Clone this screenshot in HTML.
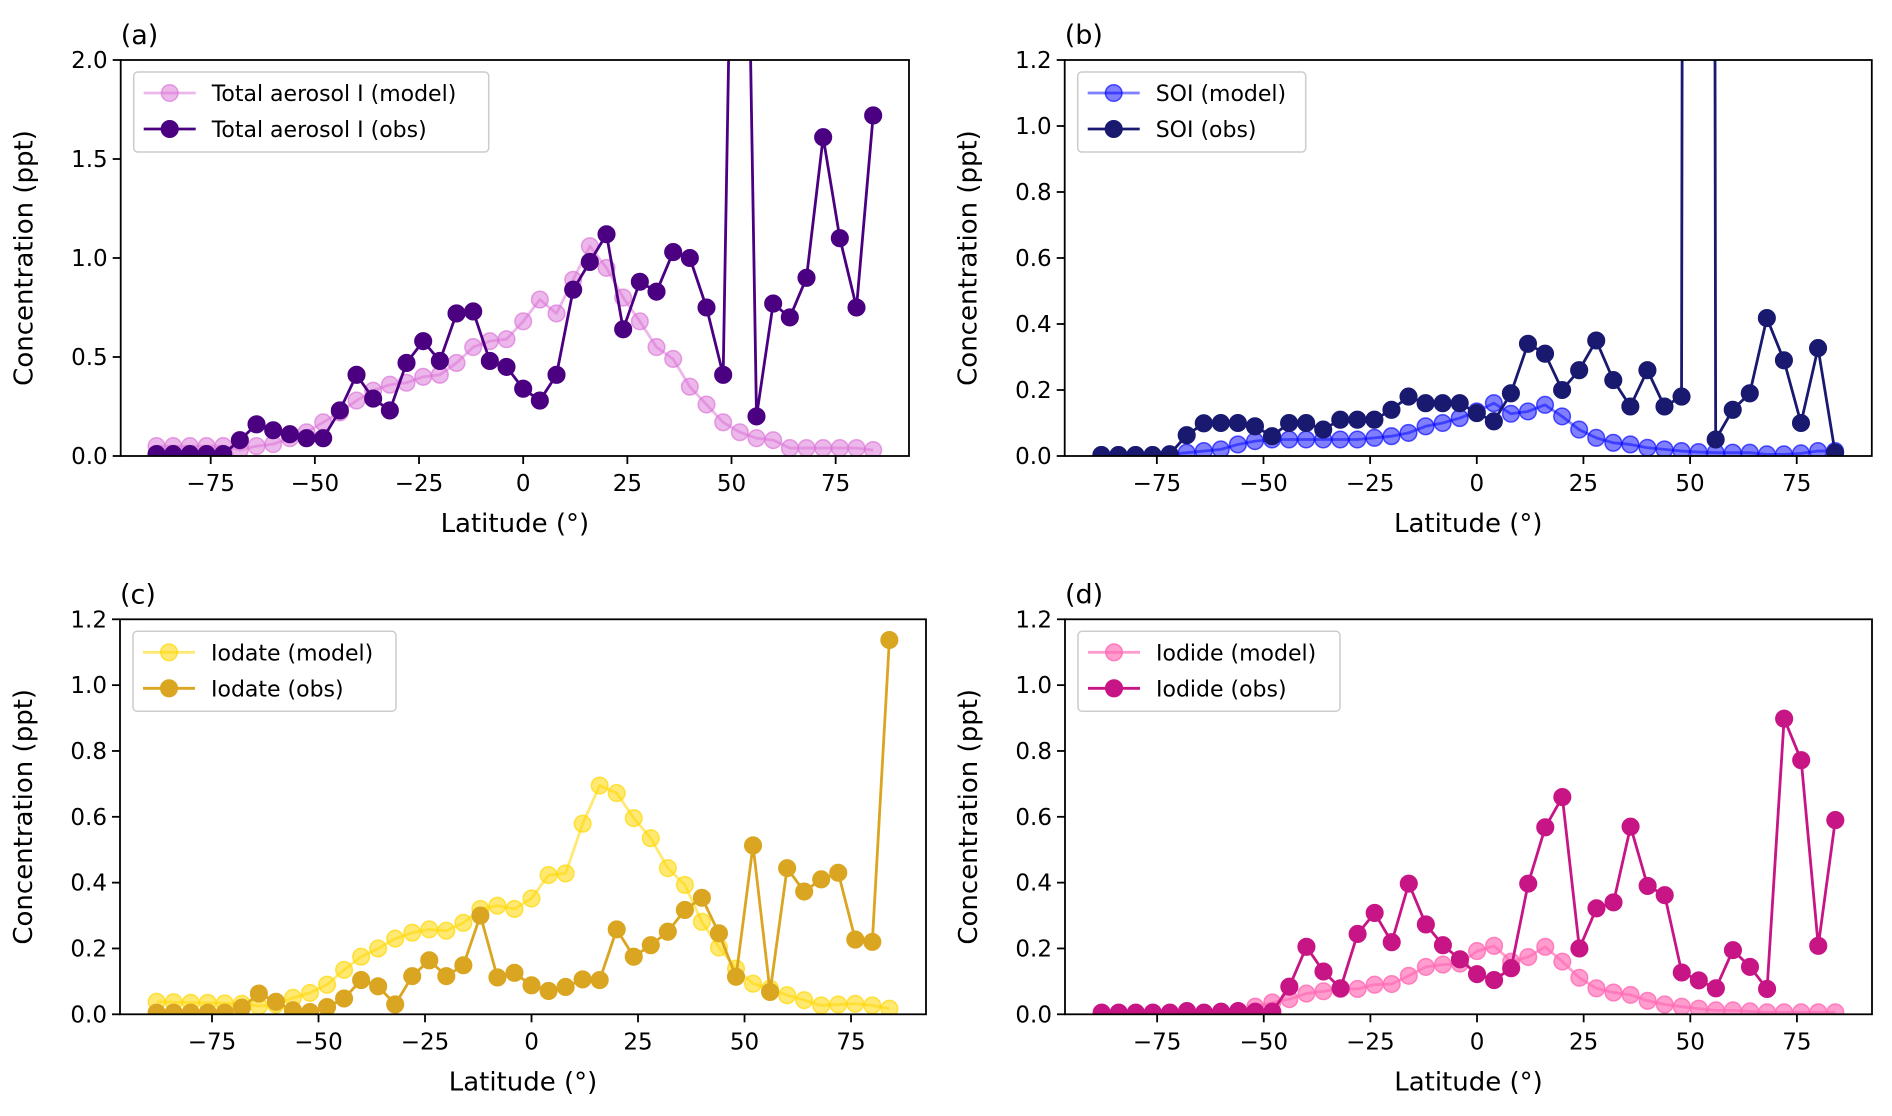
<!DOCTYPE html>
<html><head><meta charset="utf-8">
<style>
html,body{margin:0;padding:0;background:#fff;}
svg{display:block;font-family:"DejaVu Sans","Liberation Sans",sans-serif;}
</style></head>
<body>
<svg id="fig" width="1892" height="1116" viewBox="0 0 1892 1116" xmlns="http://www.w3.org/2000/svg"></svg>
<script>
const lats = [-88,-84,-80,-76,-72,-68,-64,-60,-56,-52,-48,-44,-40,-36,-32,-28,-24,-20,-16,-12,-8,-4,0,4,8,12,16,20,24,28,32,36,40,44,48,52,56,60,64,68,72,76,80,84];
const xTicks = [-75,-50,-25,0,25,50,75];
const yTicksA = [0,0.5,1.0,1.5,2.0];
const yTicksB = [0,0.2,0.4,0.6,0.8,1.0,1.2];

const totalModel = [0.05,0.05,0.05,0.05,0.05,0.03,0.05,0.06,0.09,0.12,0.17,0.22,0.28,0.33,0.36,0.37,0.40,0.41,0.47,0.55,0.58,0.59,0.68,0.79,0.72,0.89,1.06,0.95,0.80,0.68,0.55,0.49,0.35,0.26,0.17,0.12,0.09,0.08,0.04,0.04,0.04,0.04,0.04,0.03];
const totalObs = [0.01,0.01,0.01,0.01,0.01,0.08,0.16,0.13,0.11,0.09,0.09,0.23,0.41,0.29,0.23,0.47,0.58,0.48,0.72,0.73,0.48,0.45,0.34,0.28,0.41,0.84,0.98,1.12,0.64,0.88,0.83,1.03,1.00,0.75,0.41,5.3,0.20,0.77,0.70,0.90,1.61,1.10,0.75,1.72];

const soiModel = [0.003,0.003,0.003,0.003,0.005,0.01,0.015,0.02,0.035,0.045,0.05,0.05,0.05,0.05,0.05,0.05,0.055,0.06,0.07,0.09,0.10,0.115,0.135,0.16,0.128,0.135,0.155,0.12,0.08,0.055,0.04,0.035,0.025,0.02,0.015,0.012,0.01,0.01,0.01,0.005,0.005,0.008,0.015,0.015];
const soiObs = [0.003,0.003,0.003,0.003,0.005,0.063,0.099,0.10,0.10,0.09,0.06,0.10,0.10,0.08,0.11,0.11,0.11,0.14,0.18,0.16,0.16,0.16,0.13,0.105,0.19,0.34,0.31,0.20,0.26,0.35,0.23,0.15,0.26,0.15,0.18,30,0.05,0.14,0.19,0.418,0.29,0.10,0.327,0.01];

const iodateModel = [0.038,0.037,0.035,0.035,0.033,0.032,0.025,0.03,0.05,0.065,0.09,0.135,0.175,0.20,0.23,0.248,0.258,0.254,0.278,0.32,0.33,0.32,0.352,0.423,0.428,0.579,0.695,0.672,0.596,0.535,0.444,0.393,0.281,0.203,0.139,0.093,0.078,0.058,0.043,0.027,0.03,0.032,0.027,0.017];
const iodateObs = [0.005,0.005,0.005,0.005,0.005,0.02,0.063,0.038,0.012,0.007,0.022,0.048,0.104,0.085,0.03,0.116,0.164,0.116,0.149,0.30,0.112,0.126,0.088,0.071,0.083,0.106,0.104,0.258,0.175,0.21,0.251,0.317,0.354,0.246,0.114,0.513,0.068,0.444,0.373,0.41,0.43,0.227,0.22,1.137];

const iodideModel = [0.005,0.005,0.005,0.005,0.005,0.005,0.005,0.006,0.01,0.023,0.036,0.046,0.063,0.07,0.077,0.077,0.09,0.092,0.117,0.144,0.151,0.154,0.192,0.208,0.16,0.174,0.205,0.16,0.111,0.079,0.066,0.059,0.041,0.03,0.023,0.017,0.012,0.012,0.009,0.006,0.006,0.006,0.006,0.006];
const iodideObs = [0.005,0.005,0.005,0.005,0.005,0.01,0.005,0.008,0.01,0.008,0.008,0.084,0.205,0.13,0.079,0.244,0.308,0.219,0.397,0.273,0.21,0.167,0.122,0.104,0.14,0.397,0.568,0.66,0.20,0.322,0.34,0.57,0.39,0.362,0.127,0.103,0.079,0.195,0.144,0.077,0.898,0.772,0.208,0.59];

const NS = "http://www.w3.org/2000/svg";
const svg = document.getElementById('fig');
function mk(tag, attrs, parent){ const e=document.createElementNS(NS,tag); for(const k in attrs) e.setAttribute(k,attrs[k]); (parent||svg).appendChild(e); return e; }
function fmtX(v){ return v<0 ? "\u2212"+Math.abs(v) : String(v); }

const panels = [
 {id:'a', L:120.7, R:909, T:60, B:456, ymax:2.0, yt:yTicksA, model:totalModel, obs:totalObs,
  mc:'#da70d6', mo:0.5, oc:'#4b0082', ml:'Total aerosol I (model)', ol:'Total aerosol I (obs)', lw:355},
 {id:'b', L:1064.7, R:1871.8, T:60, B:456, ymax:1.2, yt:yTicksB, model:soiModel, obs:soiObs,
  mc:'#0000ff', mo:0.5, oc:'#191970', ml:'SOI (model)', ol:'SOI (obs)', lw:228},
 {id:'c', L:120, R:926, T:619.3, B:1014.3, ymax:1.2, yt:yTicksB, model:iodateModel, obs:iodateObs,
  mc:'#ffd700', mo:0.55, oc:'#daa520', ml:'Iodate (model)', ol:'Iodate (obs)', lw:263},
 {id:'d', L:1065, R:1872, T:619.3, B:1014.3, ymax:1.2, yt:yTicksB, model:iodideModel, obs:iodideObs,
  mc:'#ff69b4', mo:0.65, oc:'#c71585', ml:'Iodide (model)', ol:'Iodide (obs)', lw:262}
];
const XMIN=-96.6, XMAX=92.6;

panels.forEach(p=>{
  const xs = v => p.L + (v-XMIN)/(XMAX-XMIN)*(p.R-p.L);
  const ys = v => p.B - v/p.ymax*(p.B-p.T);
  const g = mk('g',{});
  
  
  const defs = mk('defs',{},g);
  const cp = mk('clipPath',{id:'clip-'+p.id},defs);
  mk('rect',{x:p.L,y:p.T,width:p.R-p.L,height:p.B-p.T},cp);

  const lab = mk('text',{x:p.L,y:p.T-16,'font-size':27,fill:'#000'},g);
  lab.textContent='('+p.id+')';
  
  

  function series(vals,color,op,name){
    const sg = mk('g',{'clip-path':'url(#clip-'+p.id+')'},g);
    
    
    const pts = vals.map((v,i)=>xs(lats[i]).toFixed(2)+','+ys(v).toFixed(2)).join(' ');
    const ln = mk('polyline',{points:pts,fill:'none',stroke:color,'stroke-width':2.8,'stroke-opacity':op,'stroke-linejoin':'round'},sg);
    
    
    vals.forEach((v,i)=>{
      const c = mk('circle',{cx:xs(lats[i]),cy:ys(v),r:8.3,fill:color,'fill-opacity':op,stroke:color,'stroke-opacity':Math.min(1,op+0.15),'stroke-width':1.5},sg);
      
      
    });
  }
  series(p.model,p.mc,p.mo,'model-series-'+p.id);
  series(p.obs,p.oc,1,'obs-series-'+p.id);

  const fr = mk('rect',{x:p.L,y:p.T,width:p.R-p.L,height:p.B-p.T,fill:'none',stroke:'#000','stroke-width':1.8},g);
  
  

  xTicks.forEach(t=>{
    const x=xs(t);
    mk('line',{x1:x,x2:x,y1:p.B,y2:p.B+8,stroke:'#000','stroke-width':1.8},g);
    const tx = mk('text',{x:x,y:p.B+35,'font-size':23,'text-anchor':'middle',fill:'#000'},g);
    tx.textContent=fmtX(t);
    
    
  });
  p.yt.forEach(t=>{
    const y=ys(t);
    mk('line',{x1:p.L-8,x2:p.L,y1:y,y2:y,stroke:'#000','stroke-width':1.8},g);
    const ty = mk('text',{x:p.L-13,y:y+8,'font-size':23,'text-anchor':'end',fill:'#000'},g);
    ty.textContent=t.toFixed(1);
    
    
  });
  const xt = mk('text',{x:(p.L+p.R)/2,y:p.B+76,'font-size':26,'text-anchor':'middle',fill:'#000'},g);
  xt.textContent='Latitude (°)';
  
  
  const yc=(p.T+p.B)/2, yx=p.L-88;
  const yt = mk('text',{x:yx,y:yc,'font-size':26,'text-anchor':'middle',fill:'#000',transform:'rotate(-90 '+yx+' '+yc+')'},g);
  yt.textContent='Concentration (ppt)';
  
  

  const lg = mk('g',{},g);
  
  
  const lx=p.L+13, ly=p.T+12;
  mk('rect',{x:lx,y:ly,width:p.lw,height:80,rx:4,fill:'#fff','fill-opacity':0.85,stroke:'#cccccc','stroke-width':1.5},lg);
  [[p.ml,p.mc,p.mo,'model'],[p.ol,p.oc,1,'obs']].forEach((e,k)=>{
    const yy = ly+21+k*36;
    const eg = mk('g',{},lg);
    
    
    mk('line',{x1:lx+10,x2:lx+62,y1:yy,y2:yy,stroke:e[1],'stroke-opacity':e[2],'stroke-width':2.8},eg);
    mk('circle',{cx:lx+36,cy:yy,r:8.3,fill:e[1],'fill-opacity':e[2],stroke:e[1],'stroke-opacity':Math.min(1,e[2]+0.15),'stroke-width':1.5},eg);
    const t = mk('text',{x:lx+78,y:yy+8,'font-size':22,fill:'#000'},eg);
    t.textContent=e[0];
  });
});
</script>
</body></html>
